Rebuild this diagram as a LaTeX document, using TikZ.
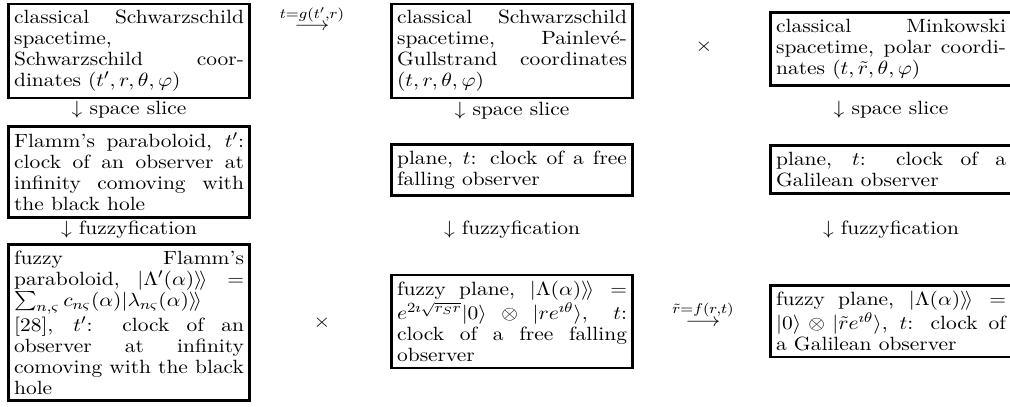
\documentclass[tikz,border=0pt]{standalone}
\usepackage{amsmath,amssymb,graphicx}
\newcommand\xwide[1]{\scalebox{1.12}[1]{#1}}
\newcommand\cell[1]{\xwide{\parbox{117.3pt}{\fontsize{10.95}{12}\selectfont #1}}}
\begin{document}
\begin{tikzpicture}[x=0.5714pt,y=-0.5714pt,
  cbox/.style={draw,line width=1.5pt,anchor=west,inner xsep=3.3pt,inner ysep=3.6pt},
  lbl/.style={inner sep=0pt,font=\fontsize{10.95}{12}\selectfont}]
\useasboundingbox (0,0) rectangle (1010,406);
% left column
\node[cbox] (L1) at (7,51) {\cell{classical Schwarzschild\linebreak spacetime,\linebreak Schwarzschild coor-\linebreak dinates $(t',r,\theta,\varphi)$}};
\node[lbl] (L1s) at (129,110) {\xwide{$\downarrow$ space slice}};
\node[cbox] (L2) at (7,172) {\cell{Flamm's paraboloid, $t'$:\linebreak clock of an observer at\linebreak infinity comoving with\linebreak the black hole}};
\node[lbl] (L2f) at (129,230) {\xwide{$\downarrow$ fuzzyfication}};
\node[cbox] (L3) at (7,322.5) {\cell{fuzzy Flamm's\linebreak paraboloid, $|\Lambda'(\alpha)\rangle\!\rangle =$\linebreak $\sum_{n,\varsigma} c_{n\varsigma}(\alpha)|\lambda_{n\varsigma}(\alpha)\rangle\!\rangle$\linebreak{}{[28]}, $t'$: clock of an\linebreak observer at infinity\linebreak comoving with the black\linebreak hole}};
% middle column
\node[cbox] (M1) at (390,51) {\cell{classical Schwarzschild\linebreak spacetime, Painlev\'e-\linebreak Gullstrand coordinates\linebreak $(t,r,\theta,\varphi)$}};
\node[lbl] (M1s) at (512,111) {\xwide{$\downarrow$ space slice}};
\node[cbox] (M2) at (390,170) {\cell{plane, $t$: clock of a free\linebreak falling observer}};
\node[lbl] (M2f) at (512,230) {\xwide{$\downarrow$ fuzzyfication}};
\node[cbox] (M3) at (390,321.5) {\cell{fuzzy plane, $|\Lambda(\alpha)\rangle\!\rangle =$\linebreak $e^{2\imath\sqrt{r_S r}}|0\rangle \otimes |re^{\imath\theta}\rangle$, $t$:\linebreak clock of a free falling\linebreak observer}};
% right column
\node[cbox] (R1) at (769,49) {\cell{classical Minkowski\linebreak spacetime, polar coordi-\linebreak nates $(t,\tilde r,\theta,\varphi)$}};
\node[lbl] (R1s) at (891,110) {\xwide{$\downarrow$ space slice}};
\node[cbox] (R2) at (769,169.5) {\cell{plane, $t$: clock of a\linebreak Galilean observer}};
\node[lbl] (R2f) at (891,230) {\xwide{$\downarrow$ fuzzyfication}};
\node[cbox] (R3) at (769,321) {\cell{fuzzy plane, $|\Lambda(\alpha)\rangle\!\rangle =$\linebreak $|0\rangle\otimes|\tilde re^{\imath\theta}\rangle$, $t$: clock of\linebreak a Galilean observer}};
% operators
\node[lbl] (g) at (312,18) {\xwide{$\stackrel{t=g(t',r)}{\longrightarrow}$}};
\node[lbl] (x1) at (704,47) {\xwide{$\times$}};
\node[lbl] (x2) at (322,323) {\xwide{$\times$}};
\node[lbl] (f) at (703,314) {\xwide{$\stackrel{\tilde r=f(r,t)}{\longrightarrow}$}};
\end{tikzpicture}
\end{document}
